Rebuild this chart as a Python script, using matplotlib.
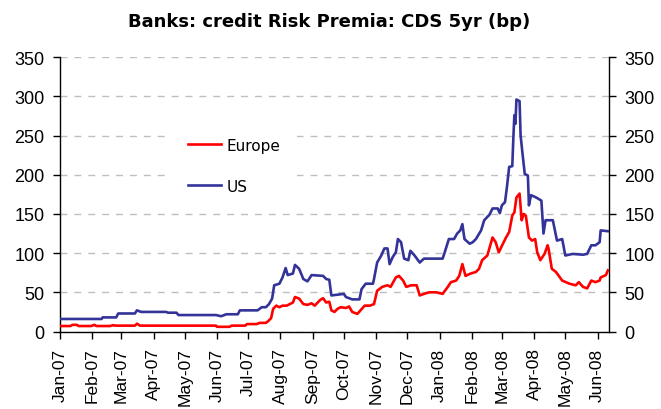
import matplotlib
matplotlib.use("Agg")
import matplotlib.pyplot as plt
import matplotlib.dates as mdates
import pandas as pd

# Bank CDS 5yr spreads (bp)
us_dates = [
    "2007-01-01", "2007-02-10", "2007-02-11", "2007-02-24", "2007-02-26", "2007-03-14",
    "2007-03-16", "2007-03-20", "2007-04-13", "2007-04-15", "2007-04-23", "2007-04-25",
    "2007-05-31", "2007-06-05", "2007-06-10", "2007-06-21", "2007-06-23", "2007-07-10",
    "2007-07-14", "2007-07-18", "2007-07-21", "2007-07-24", "2007-07-26", "2007-07-31",
    "2007-08-03", "2007-08-06", "2007-08-08", "2007-08-13", "2007-08-15", "2007-08-19",
    "2007-08-23", "2007-08-27", "2007-08-31", "2007-09-11", "2007-09-14", "2007-09-17",
    "2007-09-19", "2007-10-01", "2007-10-03", "2007-10-09", "2007-10-16", "2007-10-18",
    "2007-10-22", "2007-10-29", "2007-10-30", "2007-11-02", "2007-11-06", "2007-11-09",
    "2007-11-12", "2007-11-14", "2007-11-17", "2007-11-20", "2007-11-22", "2007-11-25",
    "2007-11-28", "2007-12-02", "2007-12-04", "2007-12-08", "2007-12-13", "2007-12-17",
    "2008-01-04", "2008-01-06", "2008-01-10", "2008-01-15", "2008-01-18", "2008-01-21",
    "2008-01-23", "2008-01-25", "2008-01-30", "2008-02-02", "2008-02-05", "2008-02-10",
    "2008-02-13", "2008-02-18", "2008-02-21", "2008-02-26", "2008-02-28", "2008-03-01",
    "2008-03-04", "2008-03-06", "2008-03-08", "2008-03-11", "2008-03-12", "2008-03-13",
    "2008-03-14", "2008-03-15", "2008-03-18", "2008-03-19", "2008-03-21", "2008-03-23",
    "2008-03-26", "2008-03-27", "2008-03-29", "2008-04-03", "2008-04-08", "2008-04-10",
    "2008-04-12", "2008-04-19", "2008-04-23", "2008-04-28", "2008-05-01", "2008-05-08",
    "2008-05-18", "2008-05-22", "2008-05-26", "2008-05-30", "2008-06-03", "2008-06-04",
    "2008-06-11",
]
us_values = [
    16, 16, 18, 18, 23, 23,
    27, 25, 25, 24, 24, 21,
    21, 19.5, 22, 22, 27, 27,
    31, 31, 35, 42, 59, 61,
    69, 81, 72, 74, 85, 80,
    67, 64, 72, 71, 67, 66,
    46, 48, 44, 41, 41, 54,
    61, 61, 67, 88, 97, 106,
    106, 86, 95, 101, 118, 114,
    93, 91, 103, 97, 88, 93,
    93, 101, 118, 118, 125, 129,
    137, 118, 112, 114, 118, 129,
    142, 149, 157, 157, 151, 161,
    165, 186, 210, 211, 246, 276,
    265, 296, 294, 250, 225, 201,
    199, 161, 174, 171, 167, 125,
    142, 142, 116, 118, 97, 99,
    98, 99, 110, 110, 114, 129,
    128,
]

eu_dates = [
    "2007-01-01", "2007-01-11", "2007-01-13", "2007-01-17", "2007-01-19", "2007-01-31",
    "2007-02-03", "2007-02-05", "2007-02-18", "2007-02-21", "2007-02-24", "2007-03-14",
    "2007-03-16", "2007-03-19", "2007-05-31", "2007-06-01", "2007-06-13", "2007-06-15",
    "2007-06-28", "2007-06-30", "2007-07-09", "2007-07-12", "2007-07-18", "2007-07-20",
    "2007-07-23", "2007-07-25", "2007-07-28", "2007-07-31", "2007-08-03", "2007-08-07",
    "2007-08-10", "2007-08-13", "2007-08-15", "2007-08-19", "2007-08-23", "2007-08-27",
    "2007-08-31", "2007-09-03", "2007-09-08", "2007-09-11", "2007-09-14", "2007-09-17",
    "2007-09-19", "2007-09-22", "2007-09-25", "2007-09-28", "2007-10-03", "2007-10-06",
    "2007-10-09", "2007-10-14", "2007-10-17", "2007-10-21", "2007-10-26", "2007-10-30",
    "2007-11-02", "2007-11-07", "2007-11-12", "2007-11-15", "2007-11-20", "2007-11-23",
    "2007-11-27", "2007-11-30", "2007-12-05", "2007-12-10", "2007-12-13", "2007-12-17",
    "2007-12-22", "2007-12-29", "2008-01-04", "2008-01-09", "2008-01-12", "2008-01-17",
    "2008-01-20", "2008-01-23", "2008-01-26", "2008-01-31", "2008-02-05", "2008-02-08",
    "2008-02-11", "2008-02-16", "2008-02-21", "2008-02-24", "2008-02-27", "2008-03-02",
    "2008-03-05", "2008-03-08", "2008-03-11", "2008-03-13", "2008-03-15", "2008-03-18",
    "2008-03-20", "2008-03-22", "2008-03-24", "2008-03-27", "2008-03-30", "2008-04-02",
    "2008-04-04", "2008-04-07", "2008-04-11", "2008-04-14", "2008-04-15", "2008-04-18",
    "2008-04-22", "2008-04-28", "2008-05-05", "2008-05-11", "2008-05-14", "2008-05-18",
    "2008-05-22", "2008-05-26", "2008-05-30", "2008-06-03", "2008-06-04", "2008-06-09",
    "2008-06-11",
]
eu_values = [
    7, 7, 8.5, 8.5, 7, 7,
    8.5, 7, 7, 8, 7.5, 7.5,
    10, 7.5, 7.5, 6, 6, 7.5,
    7.5, 9.5, 9.5, 11, 11, 13,
    17, 29, 33, 31, 33, 33,
    35, 37, 44, 42, 35, 34,
    36, 33, 40, 42.5, 37, 38,
    27, 25, 29, 31, 30, 32,
    25, 22.5, 27, 33, 33, 35,
    52, 57, 59, 57, 69, 71,
    65, 57, 59, 59, 46, 48,
    50, 50, 48, 57, 63, 65,
    71, 86, 71, 74, 76, 80,
    91, 97, 120, 114, 101, 112,
    120, 127, 148, 152, 171, 176,
    142, 150, 148, 120, 116, 118,
    101, 91, 99, 110, 105, 80,
    76, 65, 61, 59, 63, 57,
    55, 65, 63, 65, 69, 72,
    78,
]

series_labels = ["Europe", "US"]
series_colors = ["#FF0000", "#333399"]
y_ticks = [0, 50, 100, 150, 200, 250, 300, 350]

plt.rcParams["font.family"] = ["Liberation Sans", "DejaVu Sans"]

fig = plt.figure(figsize=(6.61, 4.10), dpi=100)
ax = fig.add_axes([0.0908, 0.189, 0.8305, 0.669])

ax.plot(pd.to_datetime(eu_dates), eu_values, color=series_colors[0], lw=1.9,
        label=series_labels[0], zorder=3)
ax.plot(pd.to_datetime(us_dates), us_values, color=series_colors[1], lw=1.9,
        label=series_labels[1], zorder=3)

ax.set_xlim(pd.Timestamp("2007-01-01"), pd.Timestamp("2008-06-12"))
ax.set_ylim(0, 350)
ax.set_yticks(y_ticks)
ax.yaxis.grid(True, color="#BFBFBF", linestyle=(0, (5, 5)), linewidth=1.0, zorder=0)
ax.set_axisbelow(True)

ax.xaxis.set_major_locator(mdates.MonthLocator())
ax.xaxis.set_major_formatter(mdates.DateFormatter("%b-%y"))
for lbl in ax.get_xticklabels():
    lbl.set_rotation(90)

ax.tick_params(axis="both", direction="out", length=5, width=1, labelsize=13,
               pad=6, colors="black")
ax.tick_params(axis="x", pad=6.5, labelsize=12.5)
ax.tick_params(axis="y", which="both", left=True, right=True,
               labelleft=True, labelright=True)

ax.spines["top"].set_visible(False)
for side in ("left", "right", "bottom"):
    ax.spines[side].set_linewidth(1.0)
    ax.spines[side].set_color("black")

leg = ax.legend(loc="upper left", bbox_to_anchor=(0.202, 0.768), frameon=True,
                facecolor="white", edgecolor="none", framealpha=1.0,
                handlelength=2.2, handletextpad=0.35,
                labelspacing=1.7, borderpad=1.1, borderaxespad=0,
                prop={"family": "DejaVu Sans", "size": 11})
leg.set_zorder(2)

fig.suptitle("Banks: credit Risk Premia: CDS 5yr (bp)", x=0.498, y=0.968,
             fontsize=13, fontweight="bold", family="DejaVu Sans")

fig.savefig("out.png", dpi=100)
